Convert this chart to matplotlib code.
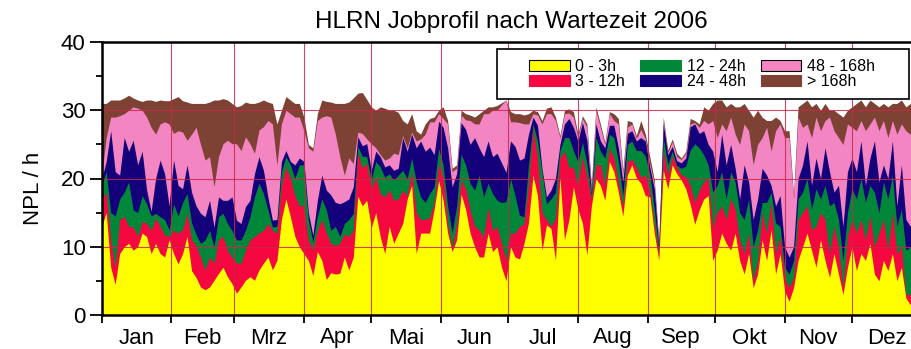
import numpy as np
import matplotlib.pyplot as plt
from matplotlib.patches import Patch, Rectangle

plt.rcParams['font.family'] = ['Liberation Sans', 'DejaVu Sans']

# sample days (every second day of 2006)
days = np.arange(0, 363, 2)

# cumulative NPL/h of jobs with waiting time up to the given class limit
upto_3h = [
    13, 15, 7, 4.5, 9, 10, 10.5, 9.5, 10, 12,
    11.5, 9, 10.5, 9, 8.5, 11, 9, 7.5, 9, 11.5,
    6.5, 5.5, 4.1, 3.7, 4.1, 5.1, 6.1, 7, 5.6, 4.6,
    3.2, 4.1, 5.1, 5.6, 5.1, 6.6, 7.6, 8.5, 6.6, 8,
    14, 17, 14.4, 11.5, 10, 9, 8, 5.8, 9.3, 8,
    5.2, 6.2, 6, 6.1, 8.5, 6.6, 8.5, 17.4, 16, 16.8,
    12.8, 15, 11.5, 9, 13, 10.5, 12, 13.4, 17, 19,
    9, 12, 12, 12, 15.5, 19.7, 16.8, 12, 9.3, 11,
    17.7, 15.5, 12, 10, 8.5, 8.5, 12, 9.3, 10, 7,
    5, 10, 8.5, 8.2, 10.5, 13.5, 20.5, 17.5, 9.5, 13.2,
    12.7, 8, 20.2, 11, 14, 18.8, 15.5, 13.5, 8.8, 16,
    20, 19, 16.8, 22.5, 21, 18, 14.5, 20.5, 22, 20.1,
    19.3, 17.5, 17.3, 12, 8, 21.2, 18.5, 22, 20.7, 19.8,
    18.5, 16.2, 13.3, 15.4, 17, 17.5, 8, 9.5, 12, 10.5,
    9.5, 12, 8, 6, 9, 4, 6, 11, 8, 12.5,
    6, 9, 3.5, 2, 4, 8, 10, 12, 9.5, 7,
    11, 8, 5.5, 9, 6, 3, 7, 10, 6.5, 9,
    8, 10.5, 6, 5, 8, 6.5, 9, 5, 7, 2.5,
    1.5, 2,
]
upto_12h = [
    17, 18, 11, 7, 14, 14.4, 13, 12.9, 11.5, 13.7,
    13.4, 12.4, 14.2, 13, 11.7, 11.5, 12.4, 12, 12.5, 14.9,
    11, 10.2, 8.5, 6.6, 8.5, 7.6, 11, 11.5, 9.5, 8.5,
    7.6, 7.6, 9.5, 11, 11.5, 12, 12.4, 13.4, 12.4, 12,
    19, 21.7, 20, 17.5, 16, 16, 11, 9.6, 12.4, 14,
    12, 10.5, 10.2, 10.5, 11.9, 11.5, 12.4, 23.7, 21.5, 22.2,
    18.5, 20.2, 17.8, 17.3, 18.3, 16.8, 17, 18.3, 17.5, 21,
    15, 14, 14, 14.3, 16.5, 22, 20.2, 13.5, 9.8, 13.4,
    19.8, 18.5, 15.4, 13, 12.5, 11.4, 15.8, 12.4, 12.9, 10.5,
    8, 12, 12, 13, 13.4, 19, 27.3, 23, 15, 14,
    13, 14.2, 23, 24, 21.6, 21.7, 18.8, 23.2, 20.2, 17,
    22, 22, 19, 24.5, 23, 19.5, 16, 22.5, 22.8, 21.7,
    20.2, 20.5, 18.3, 13.3, 9, 24.1, 20.5, 23.3, 21.7, 20.5,
    20.3, 19, 16.5, 18.3, 19.5, 20, 13, 15, 16, 14,
    17, 15.5, 11, 9, 12, 5, 8, 15, 12, 16.5,
    9, 11.5, 5.5, 4, 5.5, 14, 15, 16, 12.5, 13,
    15, 14, 9, 13, 10, 4, 11.5, 14, 12, 14,
    11, 14.5, 10, 12, 14, 9.5, 15, 9, 10, 3,
    3, 4,
]
upto_24h = [
    19, 21, 15, 14.5, 17, 18, 19.5, 15.4, 15, 17.5,
    16.3, 14.5, 14.9, 14.4, 14, 12.5, 16.3, 14.5, 16.5, 17.8,
    13.5, 11.8, 10.5, 11, 12.4, 10, 14.4, 14.9, 13.4, 12.4,
    11, 11, 12.4, 14.4, 17.3, 19.3, 17.8, 15.4, 12.9, 13,
    21, 23.2, 22, 20, 22, 22, 14, 10.7, 14.4, 17,
    15.4, 12.4, 13, 11.5, 13.4, 14, 14.9, 24.7, 23.3, 23.2,
    19.8, 22.5, 21.7, 20.2, 20.7, 19.8, 20.5, 21.2, 20, 23,
    19.5, 17.3, 16.5, 17.8, 18.8, 24.4, 22, 16, 12, 16,
    23.6, 22, 19.3, 18.3, 20.5, 17.3, 19.3, 17.8, 16.8, 16.5,
    16.6, 20, 17.5, 14.6, 14.4, 22, 28, 25.5, 21, 16.3,
    17, 18, 24.1, 26, 26, 24.1, 22.4, 25.3, 22.2, 17.5,
    26, 24, 23, 26.5, 26, 22.5, 17.5, 25, 25.5, 24.1,
    24.1, 23.3, 20.7, 15.5, 9.5, 26, 22, 24, 21.9, 21.5,
    21.8, 24.2, 25.1, 24.5, 23.5, 22, 18, 19, 21, 17,
    21, 19.5, 15, 14, 17, 10, 12.5, 16.5, 16.5, 18,
    13.5, 13, 7, 6, 8, 17, 18, 20, 15.5, 18.5,
    17, 19, 16, 16.5, 14, 8, 15, 18.5, 17, 20,
    16.5, 19, 18, 15, 19.5, 17, 20.5, 13, 15.5, 9.5,
    10, 11,
]
upto_48h = [
    20, 22.5, 27, 21, 20.5, 26, 24, 25.6, 22, 24,
    18.3, 15.2, 20, 22.7, 20.7, 16, 22.7, 19, 18.5, 22,
    18, 16, 14.9, 14.4, 16.8, 12.9, 17.3, 16.8, 16.8, 17.3,
    13.9, 13.4, 15.9, 16.8, 20.7, 23.2, 21.2, 17.3, 13.9, 14,
    22.5, 24.1, 22.5, 22, 23, 22.5, 15, 11.7, 16.8, 20.5,
    18.3, 17.6, 16.5, 16.3, 16.6, 17, 18.8, 26.1, 24.8, 25.1,
    21.2, 24, 23.2, 21.7, 22, 21.2, 21.5, 26, 24, 26.5,
    24.5, 25.5, 24, 24.6, 23.5, 28.4, 27.5, 24.5, 18.8, 20.7,
    28.2, 27.2, 25, 26, 24.5, 23.2, 25.5, 23.2, 23.7, 22.3,
    20.9, 25.5, 24.7, 22.7, 23, 26.5, 29, 27.8, 21.5, 17.3,
    18.3, 20, 25, 28, 28.8, 27.5, 25.5, 28.2, 25.6, 18,
    28, 25.5, 24.5, 27.8, 27.8, 24.5, 19.5, 26.6, 27, 25.5,
    26, 25.5, 21.7, 18.5, 10, 28, 23.5, 24.7, 22.6, 22.3,
    23, 27.6, 28, 26.6, 27, 25, 24, 21, 26.5, 22,
    25, 21.5, 17, 22, 19.5, 14, 17, 21.5, 20.5, 19,
    16, 17.5, 10, 8.5, 10, 20, 22, 25.5, 19, 23,
    20, 24.5, 21, 18, 19, 13, 21, 23, 21, 25.5,
    19, 23, 25.5, 19.5, 22, 20, 25.5, 16, 22, 14,
    13, 14,
]
upto_168h = [
    20.5, 26, 29, 29, 29.2, 29.5, 30, 30.5, 30.3, 30,
    29, 27.5, 26.5, 28, 28.3, 28, 26.6, 27, 26.8, 25.6,
    26.5, 27.5, 25, 22.7, 23.2, 18.8, 23.2, 25.1, 25.6, 25.1,
    25.1, 24.1, 26.1, 25.1, 23.7, 27.1, 27.6, 28.5, 28, 22,
    28, 30, 29.5, 29, 29, 27, 24.5, 24, 28.5, 29,
    29.2, 29, 26.5, 23.2, 20.5, 23, 22.2, 26.8, 26.6, 25.8,
    25.1, 24.5, 23.5, 22.7, 23, 23.7, 23.5, 26.3, 24.5, 26.8,
    25.5, 25.8, 26.5, 28.3, 28.3, 29.5, 28.8, 28, 21, 21.5,
    29.3, 28.6, 28.5, 28, 28, 29.5, 29.5, 30, 30, 30.8,
    31.5, 28.3, 28.3, 28.2, 28, 28, 29.5, 29.3, 28, 29.5,
    29.5, 28.5, 26, 29.5, 29.6, 29, 26, 28.8, 27.5, 18.5,
    30, 27.5, 25, 29.5, 28.5, 28, 20.7, 27.5, 28, 25.9,
    27.2, 25.8, 22.2, 19.3, 10.5, 28.5, 23.8, 25.4, 23.2, 22.8,
    23.7, 28, 28.2, 27.5, 28.5, 28, 28.5, 26, 28, 27,
    29, 26.5, 25, 28, 27, 22, 25, 26, 27.5, 24,
    27, 28, 26, 26, 17, 29, 27.5, 28, 26, 29,
    27, 28.5, 29, 27, 26, 25, 28, 27.5, 27, 28.5,
    27, 28, 29, 27, 28.5, 26, 28.5, 26.5, 28, 27,
    26.5, 27,
]
total = [
    31, 31, 31.5, 31.5, 31.5, 31.8, 32.2, 31.8, 31.5, 31.3,
    31.5, 31.5, 31.3, 31.5, 31.4, 31.4, 31.7, 32, 31.4, 31.2,
    31, 31, 31, 31, 31.2, 31.5, 31.5, 31.7, 31.5, 31,
    30.5, 30.7, 31.2, 31, 31, 31.2, 31.5, 31.2, 31, 28,
    30, 32, 31.5, 31, 31, 29, 25, 24.5, 29.5, 31.5,
    31.3, 31.2, 31, 31, 31, 31.2, 31.8, 32.5, 32.6, 31.6,
    30.5, 30, 30.5, 30.3, 30, 30, 29.7, 28.5, 28, 29.5,
    27, 26.5, 28, 28.8, 29, 30, 30.5, 28.5, 21.5, 22,
    30, 29.5, 29.3, 29, 29.5, 30, 30.5, 30.5, 30.7, 31.1,
    31.5, 29.8, 29.5, 29.5, 29.3, 29.5, 30, 29.8, 28.5, 30.3,
    30.5, 29, 26.3, 30, 30.2, 29.8, 26.5, 29.2, 28, 19,
    30.5, 28, 25.3, 29.8, 29.5, 28.8, 21.2, 28.5, 28.3, 26.3,
    28.5, 26.5, 23.2, 19.8, 11, 29, 24.2, 25.8, 23.7, 23,
    24, 28.8, 28.5, 28, 30.5, 30, 31, 31.5, 31.5, 30.5,
    31, 30.5, 30.5, 31, 30, 29, 30, 29, 28.5, 28.5,
    29, 28.5, 27, 27, 17.5, 30.5, 31, 31.5, 30.5, 31,
    30, 31, 30, 30, 29.5, 29, 30, 30.5, 31, 31.5,
    30.5, 31.5, 31, 30.5, 31, 30.5, 31, 31, 31.5, 30.5,
    31, 31,
]

class_labels = ['0 - 3h', '3 - 12h', '12 - 24h', '24 - 48h', '48 - 168h', '> 168h']
class_colors = ['#ffff00', '#f5073f', '#00873a', '#13007a', '#f485c3', '#7d4233']

month_starts = [0, 31, 59, 90, 120, 151, 181, 212, 243, 273, 304, 334, 365]
month_names = ['Jan', 'Feb', 'Mrz', 'Apr', 'Mai', 'Jun',
               'Jul', 'Aug', 'Sep', 'Okt', 'Nov', 'Dez']

levels = [upto_3h, upto_12h, upto_24h, upto_48h, upto_168h, total]

fig = plt.figure(figsize=(9.11, 3.49), dpi=100)
ax = fig.add_axes([101.7 / 911, 34 / 349, 819.9 / 911, 273 / 349])

# paint from the top class down so every band sits on the ones below
for level, color in zip(levels[::-1], class_colors[::-1]):
    ax.fill_between(days, 0, level, color=color, linewidth=0)

ax.set_xlim(0, 365)
ax.set_ylim(0, 40)

mid_months = [(a + b) / 2 for a, b in zip(month_starts[:-1], month_starts[1:])]
ax.set_xticks(month_starts)
ax.set_xticklabels([])
ax.set_xticks(mid_months, minor=True)
ax.set_xticklabels(month_names, minor=True)
ax.set_yticks([0, 10, 20, 30, 40])
ax.set_yticks([5, 15, 25, 35], minor=True)

ax.tick_params(axis='x', which='major', direction='out', length=5.5, width=1.3)
ax.tick_params(axis='x', which='minor', length=0, labelsize=16, pad=9)
ax.tick_params(axis='y', which='major', direction='out', length=8.5, width=1.3,
               labelsize=16, pad=3)
ax.tick_params(axis='y', which='minor', direction='out', length=4, width=1.3)

ax.set_axisbelow(False)
ax.grid(True, which='major', color='#c8284a', linewidth=0.8, alpha=0.85)

for side in ['left', 'bottom', 'top']:
    ax.spines[side].set_linewidth(1.8)
    ax.spines[side].set_zorder(3)
ax.spines['right'].set_visible(False)

ax.set_title('HLRN Jobprofil nach Wartezeit 2006', fontsize=17.5, pad=10)
ax.set_ylabel('NPL / h', fontsize=16)
ax.yaxis.set_label_coords(-0.070, 0.465)

# legend box
box = Rectangle((497 / 911, 1 - 99 / 349), 412 / 911, 50 / 349,
                transform=fig.transFigure, facecolor='white',
                edgecolor='black', linewidth=1.2, zorder=4)
fig.add_artist(box)

handles = []
for label, color in zip(class_labels, class_colors):
    edge = 'black' if color in ('#ffff00', '#f485c3') else color
    handles.append(Patch(facecolor=color, edgecolor=edge, linewidth=0.8, label=label))

leg = fig.legend(handles=handles, ncol=3, loc='center',
                 bbox_to_anchor=(702 / 911, 1 - 74 / 349),
                 fontsize=11.5, frameon=False, handlelength=2.55,
                 handleheight=0.68, handletextpad=0.35, columnspacing=0.95,
                 labelspacing=0.0, borderpad=0)
leg.set_zorder(5)

fig.savefig('out.png', dpi=100)
